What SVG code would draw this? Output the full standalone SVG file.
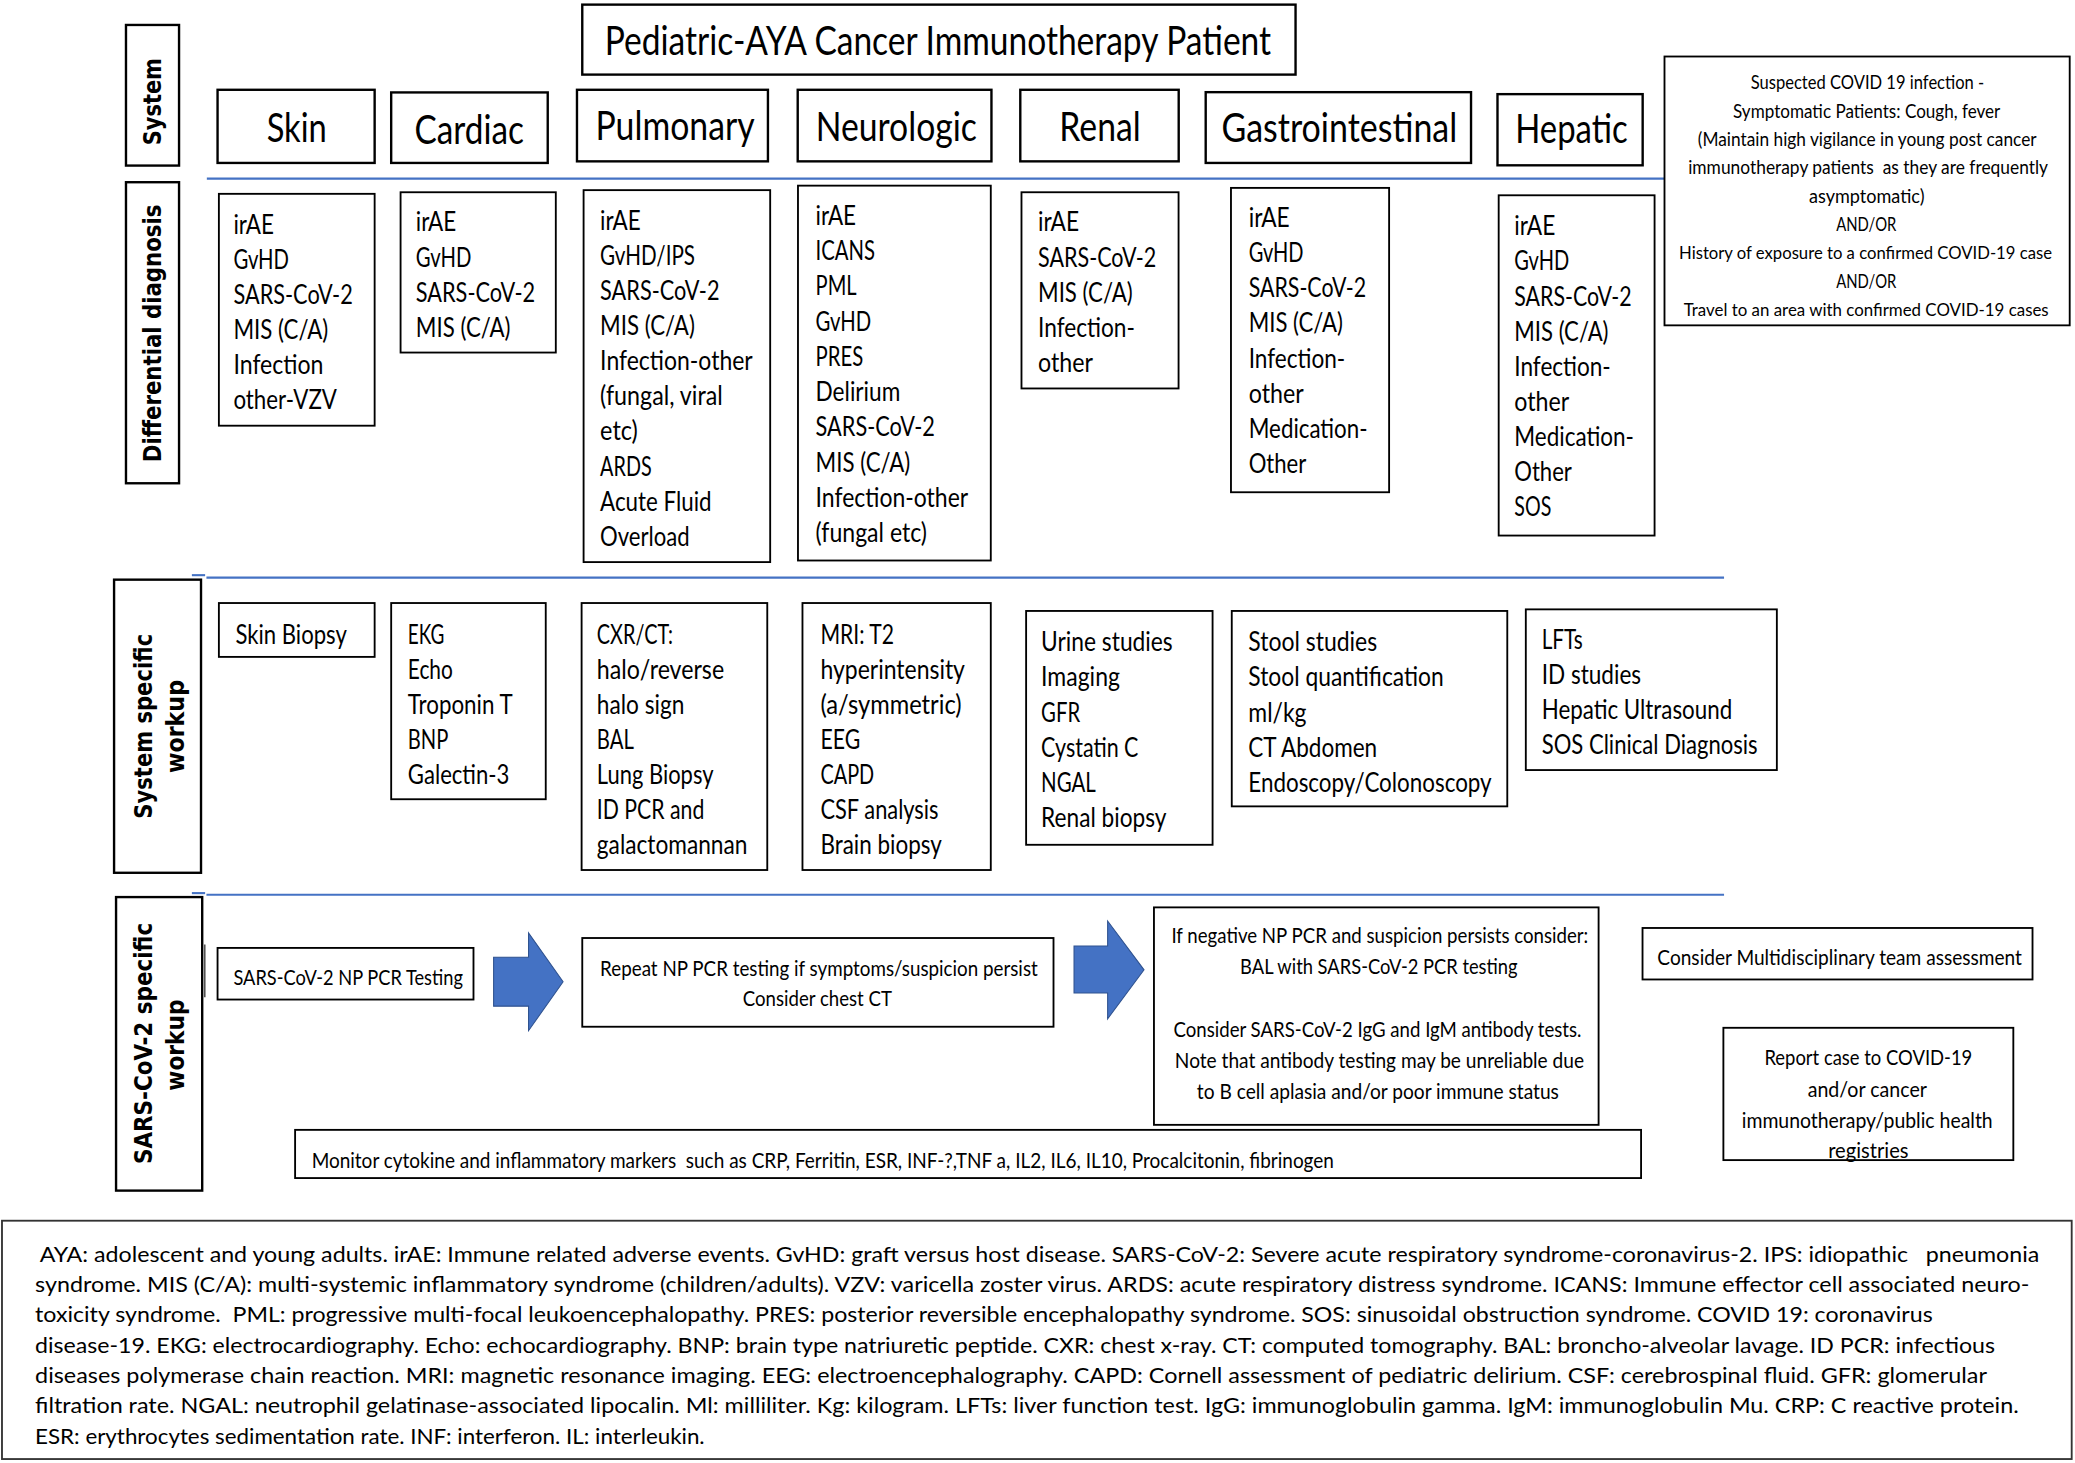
<svg xmlns="http://www.w3.org/2000/svg" width="2075" height="1463" viewBox="0 0 2075 1463">
<defs>
<style>
.box{fill:#fff;stroke:#000;stroke-width:1.4}
.hbox{fill:#fff;stroke:#000;stroke-width:1.8}
.t{font-family:Lato,"Open Sans","Liberation Sans",sans-serif;fill:#000}
.hdr{font-size:30px}
.lst{font-size:20px}
.sm{font-size:14px}
.xs{font-size:13px}
.md{font-size:16px}
.fn{font-size:16.5px}
.lbl{font-family:"DejaVu Sans",Verdana,sans-serif;font-weight:bold;font-size:18.5px;fill:#000}
.sep{stroke:#4472C4;stroke-width:1.6;fill:none}
.thin{stroke:#000;stroke-width:0.8;fill:none}
.arrow{fill:#4472C4;stroke:#2F528F;stroke-width:0.8}
.fbox{fill:#fff;stroke:#333;stroke-width:1.4}
</style>
</defs>
<rect x="0" y="0" width="2075" height="1463" fill="#fff"/>
<g transform="scale(1.32334 1.32040)">

<g id="separators">
<line class="sep" x1="156.3" y1="135.3" x2="1258" y2="135.3"/>
<line class="sep" x1="156" y1="437.5" x2="1302.8" y2="437.5"/>
<line class="sep" x1="145" y1="435.6" x2="155" y2="435.6"/>
<line class="sep" x1="156" y1="677.6" x2="1302.8" y2="677.6"/>
<line class="sep" x1="145" y1="676.4" x2="155" y2="676.4"/>
<line class="thin" x1="154.8" y1="715.4" x2="154.8" y2="755.2"/>
</g>

<g id="label-system">
<rect class="hbox" x="95.2" y="18.9" width="40.1" height="106.5"/>
<text class="lbl" transform="translate(122,77) rotate(-90)" x="-33" y="0" textLength="66" lengthAdjust="spacingAndGlyphs">System</text>
</g>
<g id="label-differential">
<rect class="hbox" x="95.2" y="138" width="40.1" height="228"/>
<text class="lbl" transform="translate(121.5,252.5) rotate(-90)" x="-97.5" y="0" textLength="195" lengthAdjust="spacingAndGlyphs">Differential diagnosis</text>
</g>
<g id="label-system-workup">
<rect class="hbox" x="86.2" y="439" width="65.7" height="222"/>
<text class="lbl" transform="translate(114.5,550) rotate(-90)" x="-70" y="0" textLength="140" lengthAdjust="spacingAndGlyphs">System specific</text>
<text class="lbl" transform="translate(139,550.3) rotate(-90)" x="-35.2" y="0" textLength="70.5" lengthAdjust="spacingAndGlyphs">workup</text>
</g>
<g id="label-sars-workup">
<rect class="hbox" x="87.7" y="679.4" width="65.1" height="222.3"/>
<text class="lbl" transform="translate(114.5,790.3) rotate(-90)" x="-91.3" y="0" textLength="182.7" lengthAdjust="spacingAndGlyphs">SARS-CoV-2 specific</text>
<text class="lbl" transform="translate(139,791.5) rotate(-90)" x="-34.5" y="0" textLength="69" lengthAdjust="spacingAndGlyphs">workup</text>
</g>

<g id="title">
<rect class="hbox" x="440" y="3.5" width="539" height="53"/>
<text class="t hdr" x="457" y="42" textLength="503.5" lengthAdjust="spacingAndGlyphs">Pediatric-AYA Cancer Immunotherapy Patient</text>
</g>

<g id="hdr-skin"><rect class="hbox" x="164.4" y="68" width="118.7" height="55.4"/>
<text class="t hdr" x="201.5" y="107.5" textLength="45.5" lengthAdjust="spacingAndGlyphs">Skin</text></g>
<g id="hdr-cardiac"><rect class="hbox" x="295.6" y="70" width="118.3" height="53.4"/>
<text class="t hdr" x="313.2" y="109" textLength="82.7" lengthAdjust="spacingAndGlyphs">Cardiac</text></g>
<g id="hdr-pulmonary"><rect class="hbox" x="436" y="68" width="144.3" height="54.2"/>
<text class="t hdr" x="450" y="106" textLength="120.3" lengthAdjust="spacingAndGlyphs">Pulmonary</text></g>
<g id="hdr-neurologic"><rect class="hbox" x="602.8" y="68" width="146.4" height="54.2"/>
<text class="t hdr" x="616.4" y="106.5" textLength="121.8" lengthAdjust="spacingAndGlyphs">Neurologic</text></g>
<g id="hdr-renal"><rect class="hbox" x="771" y="68" width="119.7" height="54.2"/>
<text class="t hdr" x="800.5" y="106.5" textLength="61.5" lengthAdjust="spacingAndGlyphs">Renal</text></g>
<g id="hdr-gi"><rect class="hbox" x="911.1" y="69.8" width="200.5" height="53.6"/>
<text class="t hdr" x="923" y="107.5" textLength="178.2" lengthAdjust="spacingAndGlyphs">Gastrointestinal</text></g>
<g id="hdr-hepatic"><rect class="hbox" x="1131.6" y="71.3" width="109.7" height="53.9"/>
<text class="t hdr" x="1145" y="108.5" textLength="85" lengthAdjust="spacingAndGlyphs">Hepatic</text></g>

<g id="suspected">
<rect class="box" x="1257.8" y="42.8" width="306.2" height="203.6"/>
<text class="t sm" x="1323" y="67.5" textLength="176.4" lengthAdjust="spacingAndGlyphs">Suspected COVID 19 infection -</text>
<text class="t sm" x="1309.6" y="89" textLength="202" lengthAdjust="spacingAndGlyphs">Symptomatic Patients: Cough, fever</text>
<text class="t sm" x="1283" y="110.5" textLength="256" lengthAdjust="spacingAndGlyphs">(Maintain high vigilance in young post cancer</text>
<text class="t sm" x="1275.7" y="132" textLength="271.9" lengthAdjust="spacingAndGlyphs" xml:space="preserve">immunotherapy patients  as they are frequently</text>
<text class="t sm" x="1367" y="153.5" textLength="87.3" lengthAdjust="spacingAndGlyphs">asymptomatic)</text>
<text class="t sm" x="1387.5" y="175" textLength="45.5" lengthAdjust="spacingAndGlyphs">AND/OR</text>
<text class="t xs" x="1268.8" y="196.5" textLength="281.8" lengthAdjust="spacingAndGlyphs">History of exposure to a confirmed COVID-19 case</text>
<text class="t sm" x="1387.5" y="218" textLength="45.5" lengthAdjust="spacingAndGlyphs">AND/OR</text>
<text class="t xs" x="1272.3" y="239.5" textLength="275.8" lengthAdjust="spacingAndGlyphs">Travel to an area with confirmed COVID-19 cases</text>
</g>

<g id="dd-skin">
<rect class="box" x="165.4" y="146.8" width="117.7" height="175.6"/>
<text class="t lst" x="176.4" y="177" textLength="30.6" lengthAdjust="spacingAndGlyphs">irAE</text>
<text class="t lst" x="176.4" y="203.6" textLength="42" lengthAdjust="spacingAndGlyphs">GvHD</text>
<text class="t lst" x="176.4" y="230.2" textLength="90.2" lengthAdjust="spacingAndGlyphs">SARS-CoV-2</text>
<text class="t lst" x="176.4" y="256.8" textLength="71.6" lengthAdjust="spacingAndGlyphs">MIS (C/A)</text>
<text class="t lst" x="176.4" y="283.4" textLength="68" lengthAdjust="spacingAndGlyphs">Infection</text>
<text class="t lst" x="176.4" y="310" textLength="78.2" lengthAdjust="spacingAndGlyphs">other-VZV</text>
</g>
<g id="dd-cardiac">
<rect class="box" x="302.7" y="145.6" width="117.3" height="121.4"/>
<text class="t lst" x="314.2" y="175.3" textLength="30.6" lengthAdjust="spacingAndGlyphs">irAE</text>
<text class="t lst" x="314.2" y="201.9" textLength="42" lengthAdjust="spacingAndGlyphs">GvHD</text>
<text class="t lst" x="314.2" y="228.5" textLength="90.2" lengthAdjust="spacingAndGlyphs">SARS-CoV-2</text>
<text class="t lst" x="314.2" y="255.1" textLength="71.6" lengthAdjust="spacingAndGlyphs">MIS (C/A)</text>
</g>
<g id="dd-pulmonary">
<rect class="box" x="441" y="144" width="141" height="281.7"/>
<text class="t lst" x="453.5" y="174" textLength="30.6" lengthAdjust="spacingAndGlyphs">irAE</text>
<text class="t lst" x="453.5" y="200.6" textLength="71.7" lengthAdjust="spacingAndGlyphs">GvHD/IPS</text>
<text class="t lst" x="453.5" y="227.2" textLength="90.2" lengthAdjust="spacingAndGlyphs">SARS-CoV-2</text>
<text class="t lst" x="453.5" y="253.8" textLength="71.6" lengthAdjust="spacingAndGlyphs">MIS (C/A)</text>
<text class="t lst" x="453.5" y="280.4" textLength="115.3" lengthAdjust="spacingAndGlyphs">Infection-other</text>
<text class="t lst" x="453.5" y="307" textLength="92.7" lengthAdjust="spacingAndGlyphs">(fungal, viral</text>
<text class="t lst" x="453.5" y="333.6" textLength="28.5" lengthAdjust="spacingAndGlyphs">etc)</text>
<text class="t lst" x="453.5" y="360.2" textLength="39" lengthAdjust="spacingAndGlyphs">ARDS</text>
<text class="t lst" x="453.5" y="386.8" textLength="84.2" lengthAdjust="spacingAndGlyphs">Acute Fluid</text>
<text class="t lst" x="453.5" y="413.4" textLength="67.7" lengthAdjust="spacingAndGlyphs">Overload</text>
</g>
<g id="dd-neurologic">
<rect class="box" x="603" y="140.6" width="145.7" height="283.9"/>
<text class="t lst" x="616.3" y="170.3" textLength="30.6" lengthAdjust="spacingAndGlyphs">irAE</text>
<text class="t lst" x="616.3" y="197" textLength="45" lengthAdjust="spacingAndGlyphs">ICANS</text>
<text class="t lst" x="616.3" y="223.7" textLength="31" lengthAdjust="spacingAndGlyphs">PML</text>
<text class="t lst" x="616.3" y="250.4" textLength="42" lengthAdjust="spacingAndGlyphs">GvHD</text>
<text class="t lst" x="616.3" y="277.1" textLength="36" lengthAdjust="spacingAndGlyphs">PRES</text>
<text class="t lst" x="616.3" y="303.8" textLength="64" lengthAdjust="spacingAndGlyphs">Delirium</text>
<text class="t lst" x="616.3" y="330.5" textLength="90.2" lengthAdjust="spacingAndGlyphs">SARS-CoV-2</text>
<text class="t lst" x="616.3" y="357.2" textLength="71.6" lengthAdjust="spacingAndGlyphs">MIS (C/A)</text>
<text class="t lst" x="616.3" y="383.9" textLength="115.3" lengthAdjust="spacingAndGlyphs">Infection-other</text>
<text class="t lst" x="616.3" y="410.6" textLength="84.2" lengthAdjust="spacingAndGlyphs">(fungal etc)</text>
</g>
<g id="dd-renal">
<rect class="box" x="771.9" y="145.6" width="118.7" height="148.6"/>
<text class="t lst" x="784.4" y="175.3" textLength="31" lengthAdjust="spacingAndGlyphs">irAE</text>
<text class="t lst" x="784.4" y="201.9" textLength="89.4" lengthAdjust="spacingAndGlyphs">SARS-CoV-2</text>
<text class="t lst" x="784.4" y="228.5" textLength="71.5" lengthAdjust="spacingAndGlyphs">MIS (C/A)</text>
<text class="t lst" x="784.4" y="255.1" textLength="73.2" lengthAdjust="spacingAndGlyphs">Infection-</text>
<text class="t lst" x="784.4" y="281.7" textLength="41.5" lengthAdjust="spacingAndGlyphs">other</text>
</g>
<g id="dd-gi">
<rect class="box" x="930.2" y="142.3" width="119.5" height="230.5"/>
<text class="t lst" x="943.6" y="172" textLength="31" lengthAdjust="spacingAndGlyphs">irAE</text>
<text class="t lst" x="943.6" y="198.6" textLength="41.5" lengthAdjust="spacingAndGlyphs">GvHD</text>
<text class="t lst" x="943.6" y="225.2" textLength="88.7" lengthAdjust="spacingAndGlyphs">SARS-CoV-2</text>
<text class="t lst" x="943.6" y="251.8" textLength="71.2" lengthAdjust="spacingAndGlyphs">MIS (C/A)</text>
<text class="t lst" x="943.6" y="278.4" textLength="72.9" lengthAdjust="spacingAndGlyphs">Infection-</text>
<text class="t lst" x="943.6" y="305" textLength="41.5" lengthAdjust="spacingAndGlyphs">other</text>
<text class="t lst" x="943.6" y="331.6" textLength="89.8" lengthAdjust="spacingAndGlyphs">Medication-</text>
<text class="t lst" x="943.6" y="358.2" textLength="43.5" lengthAdjust="spacingAndGlyphs">Other</text>
</g>
<g id="dd-hepatic">
<rect class="box" x="1132.5" y="147.9" width="117.8" height="257.7"/>
<text class="t lst" x="1144.3" y="178.3" textLength="31" lengthAdjust="spacingAndGlyphs">irAE</text>
<text class="t lst" x="1144.3" y="204.85" textLength="41.5" lengthAdjust="spacingAndGlyphs">GvHD</text>
<text class="t lst" x="1144.3" y="231.4" textLength="88.7" lengthAdjust="spacingAndGlyphs">SARS-CoV-2</text>
<text class="t lst" x="1144.3" y="257.95" textLength="71.2" lengthAdjust="spacingAndGlyphs">MIS (C/A)</text>
<text class="t lst" x="1144.3" y="284.5" textLength="72.9" lengthAdjust="spacingAndGlyphs">Infection-</text>
<text class="t lst" x="1144.3" y="311.05" textLength="41.5" lengthAdjust="spacingAndGlyphs">other</text>
<text class="t lst" x="1144.3" y="337.6" textLength="90.4" lengthAdjust="spacingAndGlyphs">Medication-</text>
<text class="t lst" x="1144.3" y="364.15" textLength="43.5" lengthAdjust="spacingAndGlyphs">Other</text>
<text class="t lst" x="1144.3" y="390.7" textLength="28" lengthAdjust="spacingAndGlyphs">SOS</text>
</g>

<g id="sw-skin">
<rect class="box" x="165.4" y="456.7" width="117.7" height="40.8"/>
<text class="t lst" x="177.9" y="487.5" textLength="84.2" lengthAdjust="spacingAndGlyphs">Skin Biopsy</text>
</g>
<g id="sw-cardiac">
<rect class="box" x="295.6" y="456.7" width="116.8" height="148.6"/>
<text class="t lst" x="308.2" y="487.5" textLength="27.6" lengthAdjust="spacingAndGlyphs">EKG</text>
<text class="t lst" x="308.2" y="514.1" textLength="34" lengthAdjust="spacingAndGlyphs">Echo</text>
<text class="t lst" x="308.2" y="540.7" textLength="79.2" lengthAdjust="spacingAndGlyphs">Troponin T</text>
<text class="t lst" x="308.2" y="567.3" textLength="30.6" lengthAdjust="spacingAndGlyphs">BNP</text>
<text class="t lst" x="308.2" y="593.9" textLength="76.7" lengthAdjust="spacingAndGlyphs">Galectin-3</text>
</g>
<g id="sw-pulmonary">
<rect class="box" x="439.5" y="456.7" width="140.3" height="202.2"/>
<text class="t lst" x="451" y="487.5" textLength="57.6" lengthAdjust="spacingAndGlyphs">CXR/CT:</text>
<text class="t lst" x="451" y="514.1" textLength="96.2" lengthAdjust="spacingAndGlyphs">halo/reverse</text>
<text class="t lst" x="451" y="540.7" textLength="66.2" lengthAdjust="spacingAndGlyphs">halo sign</text>
<text class="t lst" x="451" y="567.3" textLength="28" lengthAdjust="spacingAndGlyphs">BAL</text>
<text class="t lst" x="451" y="593.9" textLength="88.2" lengthAdjust="spacingAndGlyphs">Lung Biopsy</text>
<text class="t lst" x="451" y="620.5" textLength="81.2" lengthAdjust="spacingAndGlyphs">ID PCR and</text>
<text class="t lst" x="451" y="647.1" textLength="113.8" lengthAdjust="spacingAndGlyphs">galactomannan</text>
</g>
<g id="sw-neurologic">
<rect class="box" x="606.4" y="456.7" width="142.3" height="202.2"/>
<text class="t lst" x="620" y="487.5" textLength="55.6" lengthAdjust="spacingAndGlyphs">MRI: T2</text>
<text class="t lst" x="620" y="514.1" textLength="109.2" lengthAdjust="spacingAndGlyphs">hyperintensity</text>
<text class="t lst" x="620" y="540.7" textLength="106.7" lengthAdjust="spacingAndGlyphs">(a/symmetric)</text>
<text class="t lst" x="620" y="567.3" textLength="30" lengthAdjust="spacingAndGlyphs">EEG</text>
<text class="t lst" x="620" y="593.9" textLength="40.6" lengthAdjust="spacingAndGlyphs">CAPD</text>
<text class="t lst" x="620" y="620.5" textLength="89.2" lengthAdjust="spacingAndGlyphs">CSF analysis</text>
<text class="t lst" x="620" y="647.1" textLength="91.7" lengthAdjust="spacingAndGlyphs">Brain biopsy</text>
</g>
<g id="sw-renal">
<rect class="box" x="775.4" y="462.7" width="140.9" height="177.1"/>
<text class="t lst" x="786.7" y="493.2" textLength="99.5" lengthAdjust="spacingAndGlyphs">Urine studies</text>
<text class="t lst" x="786.7" y="519.9" textLength="59.6" lengthAdjust="spacingAndGlyphs">Imaging</text>
<text class="t lst" x="786.7" y="546.6" textLength="29.5" lengthAdjust="spacingAndGlyphs">GFR</text>
<text class="t lst" x="786.7" y="573.3" textLength="73.6" lengthAdjust="spacingAndGlyphs">Cystatin C</text>
<text class="t lst" x="786.7" y="600" textLength="41.4" lengthAdjust="spacingAndGlyphs">NGAL</text>
<text class="t lst" x="786.7" y="626.7" textLength="94.8" lengthAdjust="spacingAndGlyphs">Renal biopsy</text>
</g>
<g id="sw-gi">
<rect class="box" x="930.8" y="462.7" width="208.2" height="148"/>
<text class="t lst" x="943.3" y="493.2" textLength="97.4" lengthAdjust="spacingAndGlyphs">Stool studies</text>
<text class="t lst" x="943.3" y="519.9" textLength="147.7" lengthAdjust="spacingAndGlyphs">Stool quantification</text>
<text class="t lst" x="943.3" y="546.6" textLength="44" lengthAdjust="spacingAndGlyphs">ml/kg</text>
<text class="t lst" x="943.3" y="573.3" textLength="97.4" lengthAdjust="spacingAndGlyphs">CT Abdomen</text>
<text class="t lst" x="943.3" y="600" textLength="183.9" lengthAdjust="spacingAndGlyphs">Endoscopy/Colonoscopy</text>
</g>
<g id="sw-hepatic">
<rect class="box" x="1153" y="461.5" width="189.7" height="121.7"/>
<text class="t lst" x="1165" y="491.2" textLength="31.1" lengthAdjust="spacingAndGlyphs">LFTs</text>
<text class="t lst" x="1165" y="517.9" textLength="75.1" lengthAdjust="spacingAndGlyphs">ID studies</text>
<text class="t lst" x="1165" y="544.6" textLength="144" lengthAdjust="spacingAndGlyphs">Hepatic Ultrasound</text>
<text class="t lst" x="1165" y="571.3" textLength="163.2" lengthAdjust="spacingAndGlyphs">SOS Clinical Diagnosis</text>
</g>

<g id="np-pcr">
<rect class="box" x="164.4" y="717.9" width="193.4" height="39.1"/>
<text class="t md" x="176.4" y="746" textLength="173.4" lengthAdjust="spacingAndGlyphs">SARS-CoV-2 NP PCR Testing</text>
</g>
<g id="repeat-pcr">
<rect class="box" x="440" y="710.4" width="356.1" height="67.2"/>
<text class="t md" x="453.5" y="739" textLength="330.7" lengthAdjust="spacingAndGlyphs">Repeat NP PCR testing if symptoms/suspicion persist</text>
<text class="t md" x="561.3" y="762" textLength="112.7" lengthAdjust="spacingAndGlyphs">Consider chest CT</text>
</g>
<g id="negative-pcr">
<rect class="box" x="872" y="687.2" width="336" height="164.7"/>
<text class="t md" x="885.2" y="714.1" textLength="315" lengthAdjust="spacingAndGlyphs">If negative NP PCR and suspicion persists consider:</text>
<text class="t md" x="937.1" y="738" textLength="209.7" lengthAdjust="spacingAndGlyphs">BAL with SARS-CoV-2 PCR testing</text>
<text class="t md" x="886.8" y="785.4" textLength="308.2" lengthAdjust="spacingAndGlyphs">Consider SARS-CoV-2 IgG and IgM antibody tests.</text>
<text class="t md" x="887.8" y="809.1" textLength="309.2" lengthAdjust="spacingAndGlyphs">Note that antibody testing may be unreliable due</text>
<text class="t md" x="904.4" y="832.5" textLength="273.6" lengthAdjust="spacingAndGlyphs">to B cell aplasia and/or poor immune status</text>
</g>
<g id="multidisciplinary">
<rect class="box" x="1241.2" y="702.8" width="294.7" height="39"/>
<text class="t md" x="1252.4" y="731" textLength="275.5" lengthAdjust="spacingAndGlyphs">Consider Multidisciplinary team assessment</text>
</g>
<g id="report">
<rect class="box" x="1302.3" y="778.4" width="219.1" height="100.2"/>
<text class="t md" x="1333.3" y="806.5" textLength="157.1" lengthAdjust="spacingAndGlyphs">Report case to COVID-19</text>
<text class="t md" x="1366" y="830.5" textLength="90.1" lengthAdjust="spacingAndGlyphs">and/or cancer</text>
<text class="t md" x="1316.2" y="854.4" textLength="189.6" lengthAdjust="spacingAndGlyphs">immunotherapy/public health</text>
<text class="t md" x="1381.5" y="877.1" textLength="60.7" lengthAdjust="spacingAndGlyphs">registries</text>
</g>
<g id="monitor">
<rect class="box" x="223" y="855.7" width="1017.1" height="36.5"/>
<text class="t md" x="235.5" y="884.6" textLength="772.5" lengthAdjust="spacingAndGlyphs" xml:space="preserve">Monitor cytokine and inflammatory markers  such as CRP, Ferritin, ESR, INF-?,TNF a, IL2, IL6, IL10, Procalcitonin, fibrinogen</text>
</g>

<g id="connectors">
<polygon class="arrow" points="373,725 399.4,725 399.4,706.5 425.5,743.5 399.4,780.6 399.4,762 373,762"/>
<polygon class="arrow" points="811.6,716.5 837,716.5 837,697.5 864.5,734.5 837,771.6 837,752 811.6,752"/>
</g>

<g id="footnote">
<rect class="fbox" x="1.5" y="924.5" width="1564" height="180.5"/>
<text class="t fn" x="30" y="955.5" textLength="1511" lengthAdjust="spacingAndGlyphs" xml:space="preserve">AYA: adolescent and young adults. irAE: Immune related adverse events. GvHD: graft versus host disease. SARS-CoV-2: Severe acute respiratory syndrome-coronavirus-2. IPS: idiopathic   pneumonia</text>
<text class="t fn" x="26.5" y="978.5" textLength="1507" lengthAdjust="spacingAndGlyphs">syndrome. MIS (C/A): multi-systemic inflammatory syndrome (children/adults). VZV: varicella zoster virus. ARDS: acute respiratory distress syndrome. ICANS: Immune effector cell associated neuro-</text>
<text class="t fn" x="26.5" y="1001.5" textLength="1434" lengthAdjust="spacingAndGlyphs" xml:space="preserve">toxicity syndrome.  PML: progressive multi-focal leukoencephalopathy. PRES: posterior reversible encephalopathy syndrome. SOS: sinusoidal obstruction syndrome. COVID 19: coronavirus</text>
<text class="t fn" x="26.5" y="1024.5" textLength="1481" lengthAdjust="spacingAndGlyphs">disease-19. EKG: electrocardiography. Echo: echocardiography. BNP: brain type natriuretic peptide. CXR: chest x-ray. CT: computed tomography. BAL: broncho-alveolar lavage. ID PCR: infectious</text>
<text class="t fn" x="26.5" y="1047.5" textLength="1475" lengthAdjust="spacingAndGlyphs">diseases polymerase chain reaction. MRI: magnetic resonance imaging. EEG: electroencephalography. CAPD: Cornell assessment of pediatric delirium. CSF: cerebrospinal fluid. GFR: glomerular</text>
<text class="t fn" x="26.5" y="1070.5" textLength="1499" lengthAdjust="spacingAndGlyphs">filtration rate. NGAL: neutrophil gelatinase-associated lipocalin. Ml: milliliter. Kg: kilogram. LFTs: liver function test. IgG: immunoglobulin gamma. IgM: immunoglobulin Mu. CRP: C reactive protein.</text>
<text class="t fn" x="26.5" y="1093.5" textLength="506" lengthAdjust="spacingAndGlyphs">ESR: erythrocytes sedimentation rate. INF: interferon. IL: interleukin.</text>
</g>

</g>
</svg>
